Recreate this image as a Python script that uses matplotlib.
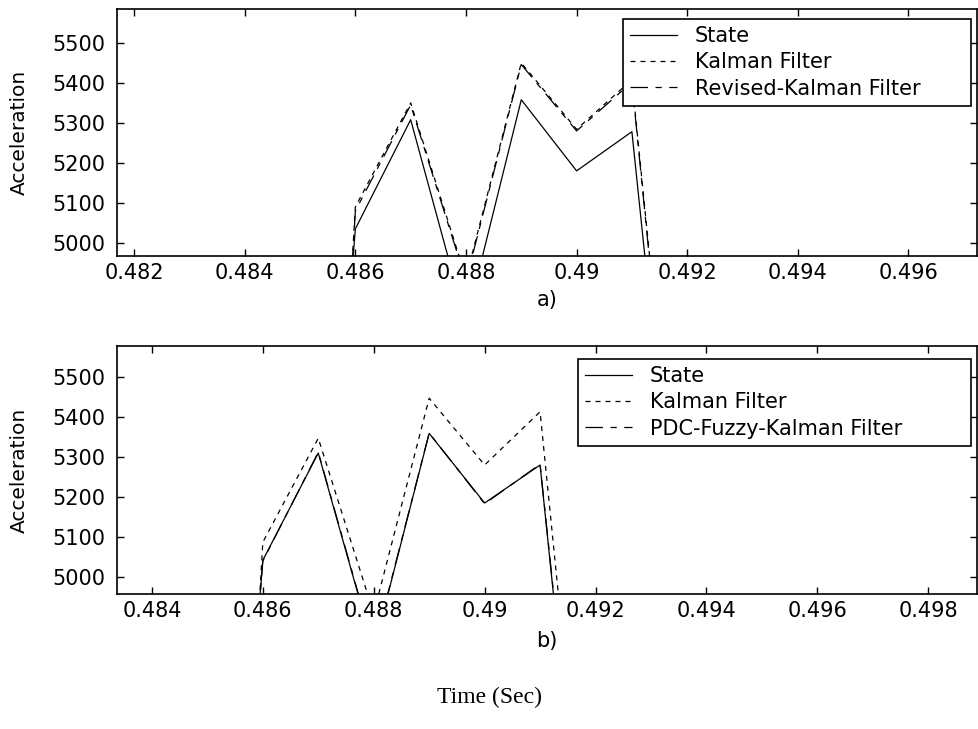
import matplotlib
matplotlib.use("Agg")
import matplotlib.pyplot as plt
from matplotlib.ticker import FormatStrFormatter, FixedLocator

plt.rcParams['font.family'] = ['DejaVu Sans']

# time samples (sec)
time = [0.485, 0.486, 0.487, 0.488, 0.489, 0.490, 0.491, 0.492]

# panel a)
state_a = [3300, 5035, 5308, 4800, 5358, 5180, 5278, 3950]
kalman_a = [2700, 5090, 5350, 4912, 5450, 5284, 5408, 4030]
revised_a = [2750, 5080, 5345, 4905, 5446, 5280, 5402, 4010]

# panel b)
state_b = [3300, 5042, 5310, 4818, 5359, 5185, 5280, 3940]
kalman_b = [2700, 5087, 5347, 4909, 5447, 5280, 5413, 4031]
pdc_b = [3320, 5040, 5312, 4822, 5360, 5183, 5282, 3960]

xticks_a = [0.482, 0.484, 0.486, 0.488, 0.490, 0.492, 0.494, 0.496]
xticks_b = [0.484, 0.486, 0.488, 0.490, 0.492, 0.494, 0.496, 0.498]
yticks = [5000, 5100, 5200, 5300, 5400, 5500]

fig = plt.figure(figsize=(9.79, 7.29), dpi=100)
W, H = 979, 729

def make_ax(left, top, right, bottom):
    return fig.add_axes([left / W, 1 - bottom / H, (right - left) / W, (bottom - top) / H])

ax1 = make_ax(117, 9, 977, 256)
ax2 = make_ax(117, 346, 977, 594)

lw = 0.9
kal_dash = (4, 4)
rev_dash = (14, 6, 5, 6)

ax1.plot(time, state_a, color='black', lw=lw, label='State')
ax1.plot(time, kalman_a, color='black', lw=lw, dashes=kal_dash, label='Kalman Filter')
ax1.plot(time, revised_a, color='black', lw=lw, dashes=rev_dash, label='Revised-Kalman Filter')

ax2.plot(time, state_b, color='black', lw=lw, label='State')
ax2.plot(time, kalman_b, color='black', lw=lw, dashes=kal_dash, label='Kalman Filter')
ax2.plot(time, pdc_b, color='black', lw=lw, dashes=rev_dash, label='PDC-Fuzzy-Kalman Filter')

ax1.set_xlim(0.48169, 0.49724)
ax1.set_ylim(4967, 5585)
ax2.set_xlim(0.48337, 0.49888)
ax2.set_ylim(4957.5, 5577.5)

legend_boxes = {
    0: ((623 - 117) / 860, 0.96, (971 - 623) / 860),
    1: ((578 - 117) / 860, 0.948, (971 - 578) / 860),
}

for i, (ax, xt) in enumerate(((ax1, xticks_a), (ax2, xticks_b))):
    ax.xaxis.set_major_locator(FixedLocator(xt))
    ax.yaxis.set_major_locator(FixedLocator(yticks))
    ax.xaxis.set_major_formatter(FormatStrFormatter('%g'))
    ax.yaxis.set_major_formatter(FormatStrFormatter('%g'))
    ax.tick_params(direction='in', top=True, right=True, length=5, width=1,
                   labelsize=15)
    ax.tick_params(axis='y', pad=8.5)
    ax.tick_params(axis='x', pad=5)
    for s in ax.spines.values():
        s.set_linewidth(1.2)
    ax.set_ylabel('Acceleration', fontsize=14.5)
    ax.yaxis.set_label_coords((29 - 117) / 860, 0.5)
    x0, ytop, w = legend_boxes[i]
    leg = ax.legend(loc='upper left', bbox_to_anchor=(x0, 0.0, w, ytop), mode='expand',
                    borderaxespad=0, fontsize=15, frameon=True, fancybox=False,
                    edgecolor='black', handlelength=2.25, handletextpad=0.85,
                    labelspacing=0.3, borderpad=0.35)
    leg.get_frame().set_linewidth(1.2)
    leg.get_frame().set_alpha(1)

fig.text(547 / W, 1 - 300 / H, 'a)', ha='center', va='center', fontsize=15)
fig.text(547 / W, 1 - 641 / H, 'b)', ha='center', va='center', fontsize=15)
fig.text(490 / W, 1 - 697 / H, 'Time (Sec)', ha='center', va='center', fontsize=17,
         family=['Liberation Serif', 'DejaVu Serif'])

fig.savefig('out.png', dpi=100)
